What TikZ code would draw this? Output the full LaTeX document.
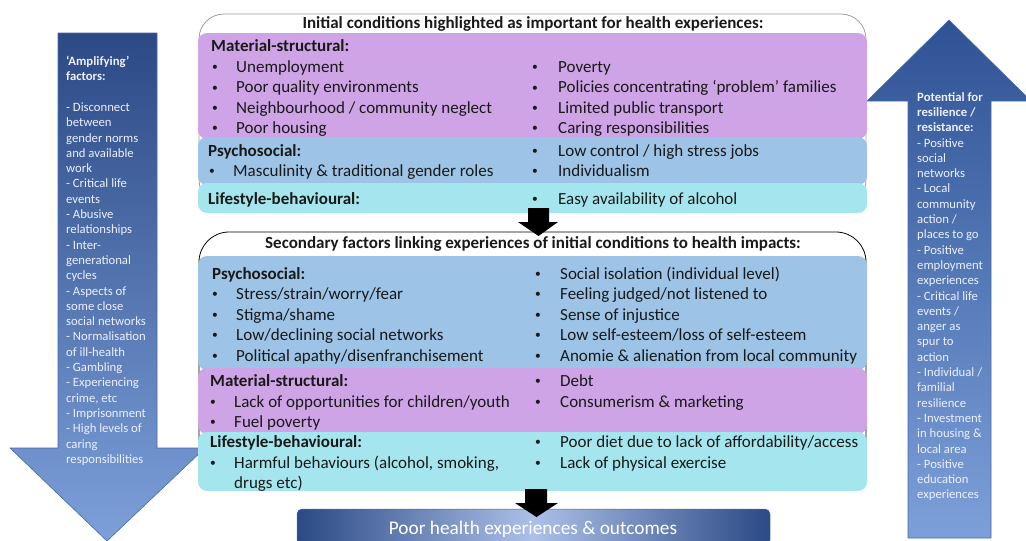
\documentclass[tikz,border=0pt]{standalone}
\usepackage{fontspec}
\setmainfont{Carlito}
\definecolor{purp}{RGB}{206,164,230}
\definecolor{bluband}{RGB}{157,195,230}
\definecolor{cyanband}{RGB}{165,230,238}
\definecolor{arrdark}{RGB}{43,73,133}
\definecolor{arrdarkb}{RGB}{46,82,148}
\definecolor{arrlight}{RGB}{125,160,218}
\definecolor{arredge}{RGB}{70,105,170}
\definecolor{boxmid}{RGB}{172,192,232}
\definecolor{txtcol}{RGB}{25,25,25}
\definecolor{arrtxt}{RGB}{236,240,250}
\tikzset{
  txt/.style={anchor=base west,inner sep=0pt,text=txtcol,font=\fontsize{17}{20}\selectfont},
  lbl/.style={txt,font=\fontsize{17}{20}\selectfont\bfseries},
  bul/.style={anchor=base,inner sep=0pt,text=txtcol,font=\fontsize{11.5}{20}\selectfont},
  band/.style={rounded corners=9pt,draw=none},
  arrtext/.style={anchor=north west,inner sep=0pt,text=arrtxt,align=left,font=\fontsize{12.7}{15.3}\selectfont},
  blockarr/.style={fill=black,draw=none},
  ttl/.style={anchor=base,inner sep=0pt,text=txtcol,font=\fontsize{17}{20}\selectfont\bfseries},
}
\newcommand\itm[5]{\node[bul] (#1b) at (#2,#4-1.5) {•};\node[txt] (#1) at (#3,#4) {#5};}
\begin{document}
\begin{tikzpicture}[x=1pt,y=-1pt]
\useasboundingbox (0,0) rectangle (1026,541);
% big side arrows
\shade[top color=arrdark,bottom color=arrlight,draw=arredge,line width=0.6pt]
  (58,33) -- (157,33) -- (157,448) -- (205,448) -- (107,541) -- (10,448) -- (58,448) -- cycle;
\shade[top color=arrdarkb,bottom color=arrlight,draw=arredge,line width=0.6pt]
  (949,20) -- (1031,101) -- (991,101) -- (991,538) -- (908,538) -- (908,101) -- (867,101) -- cycle;
\node[arrtext] (amp) at (66,56) {\textbf{‘Amplifying’}\\\textbf{factors:}\\[15.3pt]- Disconnect\\between\\gender norms\\and available\\work\\- Critical life\\events\\- Abusive\\relationships\\- Inter-\\generational\\cycles\\- Aspects of\\some close\\social networks\\- Normalisation\\of ill-health\\- Gambling\\- Experiencing\\crime, etc\\- Imprisonment\\- High levels of\\caring\\responsibilities};
\node[arrtext] (res) at (917,92) {\textbf{Potential for}\\\textbf{resilience /}\\\textbf{resistance:}\\- Positive\\social\\networks\\- Local\\community\\action /\\places to go\\- Positive\\employment\\experiences\\- Critical life\\events /\\anger as\\spur to\\action\\- Individual /\\familial\\resilience\\- Investment\\in housing \&\\local area\\- Positive\\education\\experiences};
% top box
\draw[draw=black!38,line width=0.8pt,rounded corners=25pt] (199,14) rectangle (866,205);
\node[ttl] (t1) at (533,28) {Initial conditions highlighted as important for health experiences:};
\fill[band,purp] (198,33) rectangle (867,139);
\fill[band,bluband] (198,137) rectangle (867,185);
\fill[band,cyanband] (198,183) rectangle (867,213);
\node[lbl] (m1) at (211,51) {Material-structural:};
\itm{a1}{215}{236}{72}{Unemployment}
\itm{a2}{215}{236}{92.5}{Poor quality environments}
\itm{a3}{215}{236}{113}{Neighbourhood / community neglect}
\itm{a4}{215}{236}{133}{Poor housing}
\itm{a5}{535}{558}{72}{Poverty}
\itm{a6}{535}{558}{92.5}{Policies concentrating ‘problem’ families}
\itm{a7}{535}{558}{113}{Limited public transport}
\itm{a8}{535}{558}{133}{Caring responsibilities}
\node[lbl] (p1) at (208,156) {Psychosocial:};
\itm{b1}{212}{233}{176}{Masculinity \& traditional gender roles}
\itm{b2}{535}{558}{156}{Low control / high stress jobs}
\itm{b3}{535}{558}{176}{Individualism}
\node[lbl] (l1) at (208,204) {Lifestyle-behavioural:};
\itm{c1}{535}{558}{204}{Easy availability of alcohol}
% arrow 1
\fill[blockarr] (528,208) -- (549,208) -- (549,222) -- (558,222) -- (538.5,236) -- (518,222) -- (528,222) -- cycle;
% second box
\draw[draw=black,line width=0.8pt,rounded corners=30pt] (199,232) rectangle (866,470);
\node[ttl] (t2) at (533,248) {Secondary factors linking experiences of initial conditions to health impacts:};
\fill[band,bluband] (198,256) rectangle (867,370);
\fill[band,purp] (198,368) rectangle (867,434);
\fill[band,cyanband] (198,432) rectangle (867,491);
\node[lbl] (p2) at (212,279) {Psychosocial:};
\itm{d1}{215}{236}{299}{Stress/strain/worry/fear}
\itm{d2}{215}{236}{320}{Stigma/shame}
\itm{d3}{215}{236}{340}{Low/declining social networks}
\itm{d4}{215}{236}{361}{Political apathy/disenfranchisement}
\itm{d5}{538}{560}{279}{Social isolation (individual level)}
\itm{d6}{538}{560}{299}{Feeling judged/not listened to}
\itm{d7}{538}{560}{320}{Sense of injustice}
\itm{d8}{538}{560}{340}{Low self-esteem/loss of self-esteem}
\itm{d9}{538}{560}{361}{Anomie \& alienation from local community}
\node[lbl] (m2) at (210,386) {Material-structural:};
\itm{e1}{213}{234}{407}{Lack of opportunities for children/youth}
\itm{e2}{213}{234}{427}{Fuel poverty}
\itm{e3}{538}{560}{386}{Debt}
\itm{e4}{538}{560}{407}{Consumerism \& marketing}
\node[lbl] (l2) at (210,447) {Lifestyle-behavioural:};
\itm{f1}{213}{234}{468}{Harmful behaviours (alcohol, smoking,}
\node[txt] (f1c) at (234,488) {drugs etc)};
\itm{f2}{538}{560}{447}{Poor diet due to lack of affordability/access}
\itm{f3}{538}{560}{468}{Lack of physical exercise}
% bottom box
\shade[left color=arrdark,right color=arrdark,middle color=boxmid,rounded corners=5pt,draw=arredge,line width=0.5pt]
  (297,545) -- (297,509) -- (770,509) -- (770,545) -- cycle;
\node[anchor=base,inner sep=0pt,text=white,font=\fontsize{19.3}{22}\selectfont] (out) at (533,534) {Poor health experiences \& outcomes};
% arrow 2
\fill[blockarr] (525,489) -- (547,489) -- (547,503) -- (558,503) -- (536.5,517) -- (515,503) -- (525,503) -- cycle;
\end{tikzpicture}
\end{document}
